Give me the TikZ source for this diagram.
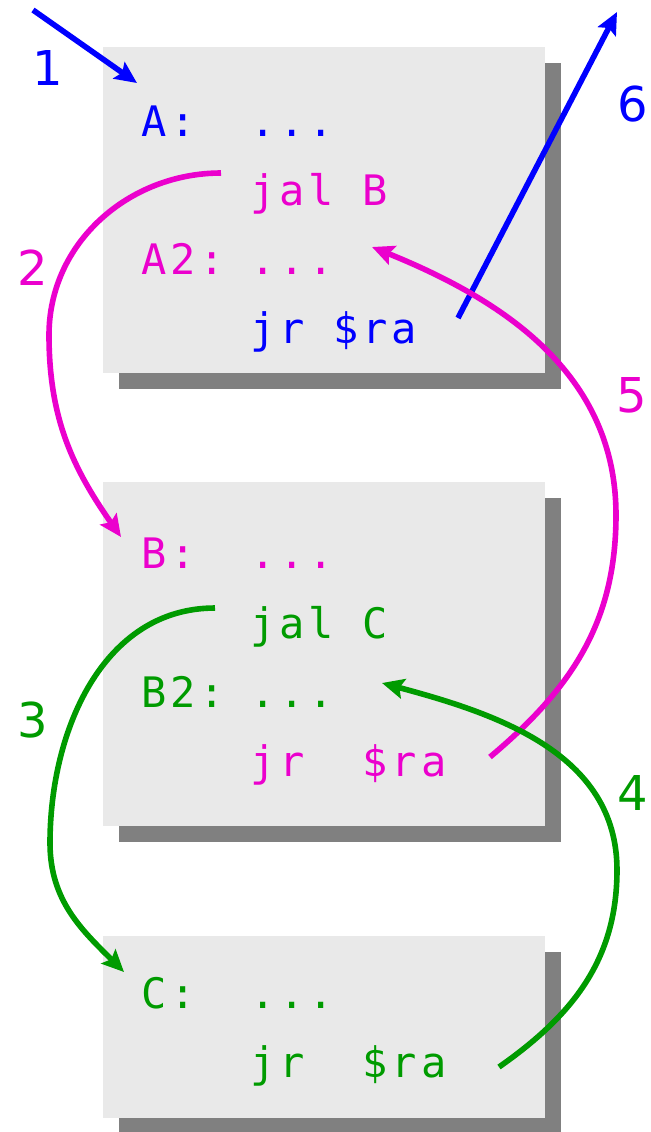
\documentclass[tikz,border=0pt]{standalone}
\usepackage{fontspec}
\usepackage{tikz}
\usetikzlibrary{calc,arrows.meta,shadows}
\newfontfamily\asmfont[LetterSpace=9]{DejaVu Sans Mono}
\newfontfamily\numfont{DejaVu Sans}
\definecolor{jalmag}{RGB}{235,0,205}
\definecolor{jalgreen}{RGB}{0,155,0}
\definecolor{boxfill}{RGB}{233,233,233}
\definecolor{boxshade}{RGB}{128,128,128}
\newcommand\callcurve[5]{%
  \draw[call, #1] (#2) to[#4] (#3) to[#5] (#3e);
}

\begin{document}
\begin{tikzpicture}
[x=0.5pt, y=0.5pt,
 procbox/.style={fill=boxfill, anchor=north west, inner sep=0, minimum width=221pt,
   drop shadow={shadow xshift=8pt, shadow yshift=-8pt, fill=boxshade, opacity=1}},
 asm/.style={anchor=base west, inner sep=0, font=\asmfont\fontsize{21}{25}\selectfont},
 stepnum/.style={font=\numfont\fontsize{24}{28}\selectfont},
 call/.style={line width=2.8pt, -{Stealth[length=11pt, width=10pt, inset=2pt]}}]
\useasboundingbox (0,0) rectangle (651,-1132);
\node[procbox, minimum height=163pt] (boxA) at (103,-47)  {};
\node[procbox, minimum height=172pt] (boxB) at (103,-482) {};
\node[procbox, minimum height=91pt]  (boxC) at (103,-936) {};
% labels and instructions
\foreach \nam/\ypos/\col/\txt in {labA/136/blue/{A:}, labAtwo/274/jalmag/{A2:},
    labB/568/jalmag/{B:}, labBtwo/707/jalgreen/{B2:}, labC/1008/jalgreen/{C:}}
  \node[asm, text=\col] (\nam) at (141,-\ypos) {\txt};
\foreach \nam/\ypos/\col/\txt in {insAa/136/blue/{...}, insAb/205/jalmag/{jal B},
    insAc/274/jalmag/{...}, insAd/343/blue/{jr \$ra},
    insBa/568/jalmag/{...}, insBb/638/jalgreen/{jal C},
    insBc/707/jalgreen/{...}, insBd/776/jalmag/{jr~~\$ra},
    insCa/1008/jalgreen/{...}, insCb/1077/jalgreen/{jr~~\$ra}}
  \node[asm, text=\col] (\nam) at (250,-\ypos) {\txt};
% arrow ends
\coordinate (enter)  at (33,-10);
\coordinate (enterA) at (137,-83);
\coordinate (leaveA) at (458,-318);
\coordinate (exit)   at (617,-12);
\coordinate (jalB)   at (221,-173);
\coordinate (jalBm)  at (49,-335);
\coordinate (jalBme) at (121,-537);
\coordinate (retB)   at (490,-757);
\coordinate (retBm)  at (616,-515);
\coordinate (retBme) at (372,-247);
\coordinate (jalC)   at (215,-608);
\coordinate (jalCm)  at (50,-843);
\coordinate (jalCme) at (124,-972);
\coordinate (retC)   at (499,-1067);
\coordinate (retCm)  at (617,-870);
\coordinate (retCme) at (382,-683);
\draw[call, blue] (enter) -- (enterA);
\draw[call, blue] (leaveA) -- (exit);
\callcurve{jalmag}{jalB}{jalBm}{out=180, in=90}{out=-90, in=125}
\callcurve{jalmag}{retB}{retBm}{out=40, in=-90}{out=90, in=-22}
\callcurve{jalgreen}{jalC}{jalCm}{out=180, in=90}{out=-90, in=135}
\callcurve{jalgreen}{retC}{retCm}{out=35, in=-90}{out=90, in=-15}
% step numbers
\node[stepnum, text=blue]     (n1) at (48,-68)   {1};
\node[stepnum, text=jalmag]   (n2) at (33,-268)  {2};
\node[stepnum, text=jalgreen] (n3) at (33,-720)  {3};
\node[stepnum, text=jalgreen] (n4) at (633,-793) {4};
\node[stepnum, text=jalmag]   (n5) at (632,-395) {5};
\node[stepnum, text=blue]     (n6) at (633,-104) {6};
\end{tikzpicture}
\end{document}
